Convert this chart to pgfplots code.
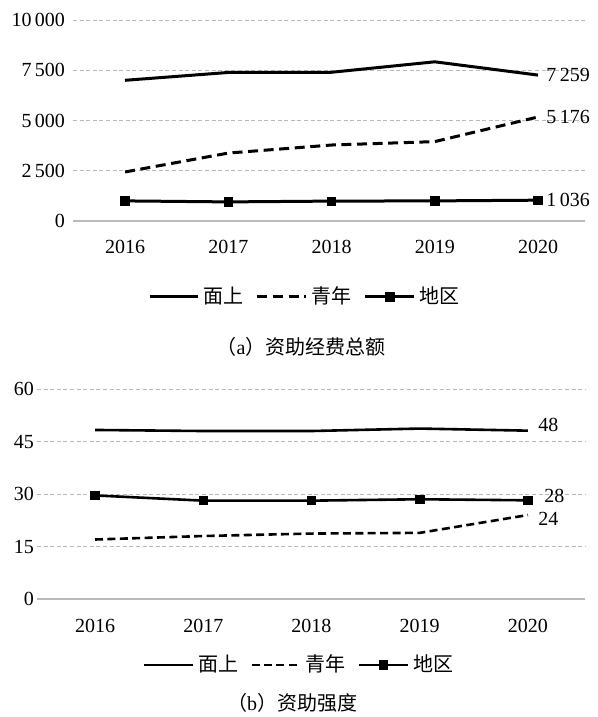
\documentclass[border=0pt]{standalone}
\usepackage{pgfplots}
\pgfplotsset{compat=1.18}
\usepackage{fontspec}
\setmainfont{Liberation Serif}
\newfontfamily\cjk{Noto Sans CJK SC}
\newcommand{\fs}{\fontsize{10}{12}\selectfont}
\pgfplotsset{
  mystyle/.style={
    scale only axis,
    anchor=south west,
    clip=false,
    axis line style={draw=none},
    major tick length=0pt,
    ymajorgrids,
    grid style={draw=gray!55, line width=0.5pt, dash pattern=on 2pt off 1.3pt},
    extra y ticks={0},
    extra y tick style={grid style={solid, draw=gray!55, line width=0.9pt}},
    tick label style={font=\fs},
    scaled y ticks=false,
    /pgf/number format/fixed,
    /pgf/number format/assume math mode=true,
    /pgf/number format/1000 sep={\,},
    x tick label style={/pgf/number format/1000 sep={}},
    xtick={2016,2017,2018,2019,2020},
    legend columns=3,
    legend style={draw=none, fill=none, font=\cjk\fs, anchor=center,
      /tikz/every even column/.append style={column sep=4pt}},
    legend image code/.code={\draw[mark repeat=2,mark phase=2,#1] plot coordinates {(0cm,0cm) (0.43cm,0cm) (0.86cm,0cm)};},
  }
}
\begin{document}
\begin{tikzpicture}
\useasboundingbox (0pt,0pt) rectangle (299pt,-358.5pt);

\begin{axis}[mystyle,
  at={(36.5pt,-110.5pt)}, width=256pt, height=100.5pt,
  xmin=2015.496, xmax=2020.455, ymin=0, ymax=10000,
  ytick={2500,5000,7500,10000},
  y tick label style={xshift=-0.5pt},
  x tick label style={yshift=-6pt},
  legend style={at={(0.455,-0.378)}},
]
\addplot[black, line width=1.5pt] coordinates {(2016,7000)(2017,7390)(2018,7400)(2019,7920)(2020,7259)};
\addlegendentry{面上}
\addplot[black, line width=1.5pt, dash pattern=on 5pt off 2.8pt] coordinates {(2016,2440)(2017,3380)(2018,3780)(2019,3950)(2020,5176)};
\addlegendentry{青年}
\addplot[black, line width=1.5pt, mark=square*, mark size=2.1pt, mark options={solid, line width=0.4pt}] coordinates {(2016,1000)(2017,950)(2018,990)(2019,1000)(2020,1036)};
\addlegendentry{地区}
\node[anchor=west, font=\fs, inner sep=0pt, xshift=4pt] at (axis cs:2020,7259) {7\,259};
\node[anchor=west, font=\fs, inner sep=0pt, xshift=4pt] at (axis cs:2020,5176) {5\,176};
\node[anchor=west, font=\fs, inner sep=0pt, xshift=4pt] at (axis cs:2020,1036) {1\,036};
\end{axis}
\node[font=\fs] at (150.5pt,-173.5pt) {{\cjk （}a{\cjk ）资助经费总额}};

\begin{axis}[mystyle,
  at={(18.5pt,-299.5pt)}, width=274pt, height=105pt,
  xmin=2015.464, xmax=2020.527, ymin=0, ymax=60,
  ytick={15,30,45,60},
  y tick label style={xshift=2pt},
  x tick label style={yshift=-6.5pt},
  legend style={at={(0.48,-0.314)}},
]
\addplot[black, line width=1.3pt] coordinates {(2016,48.3)(2017,48.0)(2018,48.0)(2019,48.7)(2020,48.1)};
\addlegendentry{面上}
\addplot[black, line width=1.3pt, dash pattern=on 4pt off 2.2pt] coordinates {(2016,17.0)(2017,18.0)(2018,18.7)(2019,18.9)(2020,24)};
\addlegendentry{青年}
\addplot[black, line width=1.3pt, mark=square*, mark size=2.1pt, mark options={solid, line width=0.4pt}] coordinates {(2016,29.6)(2017,28.1)(2018,28.1)(2019,28.5)(2020,28.2)};
\addlegendentry{地区}
\node[anchor=west, font=\fs, inner sep=1pt, xshift=4pt, yshift=3pt] at (axis cs:2020,48.1) {48};
\node[anchor=west, font=\fs, inner sep=1pt, xshift=7pt, yshift=2pt] at (axis cs:2020,28.2) {28};
\node[anchor=west, font=\fs, inner sep=1pt, xshift=4pt, yshift=-2pt] at (axis cs:2020,24) {24};
\end{axis}
\node[font=\fs] at (146pt,-351.5pt) {{\cjk （}b{\cjk ）资助强度}};
\end{tikzpicture}
\end{document}
